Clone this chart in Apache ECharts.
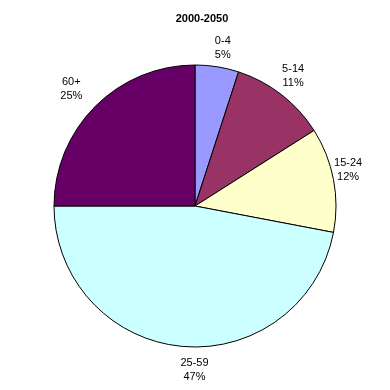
<!DOCTYPE html>
<html><head><meta charset="utf-8">
<script src="https://cdn.jsdelivr.net/npm/echarts@6/dist/echarts.min.js"></script>
<style>html,body{margin:0;padding:0;background:#fff}#c{width:390px;height:390px}</style>
</head><body><div id="c"></div>
<script>
const title = '2000-2050';
const categories = ['0-4', '5-14', '15-24', '25-59', '60+'];
const values = [5, 11, 12, 47, 25];
const colors = ['#9999FF', '#993366', '#FFFFCC', '#CCFFFF', '#660066'];

// label nudges (style only), matching the reference's label placement
const labelNudge = [[2, 5], [-3, 0], [-9, -5], [15, 0], [-7, 0]];

const data = categories.map((c, i) => ({ name: c, value: values[i], itemStyle: { color: colors[i] } }));
const chart = echarts.init(document.getElementById('c'), null, { renderer: 'canvas' });
chart.setOption({
  animation: false,
  title: { text: title, left: 197, top: 8, textAlign: 'center',
    textStyle: { fontFamily: 'Liberation Sans, Arial', fontSize: 11, fontWeight: 'bold', color: '#000' } },
  series: [
    { type: 'pie', center: [195, 206], radius: [0, 141], startAngle: 90, clockwise: true,
      data: data, label: { show: false }, labelLine: { show: false },
      itemStyle: { borderColor: '#000', borderWidth: 1 }, emphasis: { disabled: true } },
    { type: 'pie', center: [195, 206], radius: [150, 174], startAngle: 90, clockwise: true, silent: true,
      data: categories.map((c, i) => ({ name: c, value: values[i], label: { offset: labelNudge[i] } })),
      itemStyle: { color: 'rgba(0,0,0,0)' },
      label: { show: true, position: 'inside', formatter: p => p.name + '\n' + p.value + '%',
        fontFamily: 'Liberation Sans, Arial', fontSize: 11, lineHeight: 14, color: '#000', align: 'center' },
      labelLine: { show: false }, emphasis: { disabled: true } }
  ]
});
</script></body></html>
